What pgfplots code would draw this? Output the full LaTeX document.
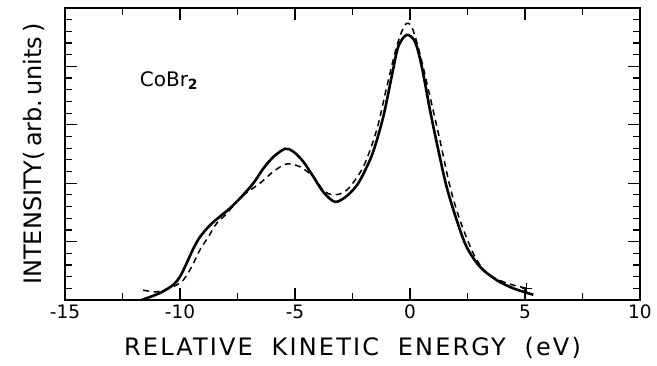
\documentclass[border=0pt]{standalone}
\usepackage{pgfplots}
\pgfplotsset{compat=1.18}
\usepackage{fontspec}
\setmainfont{DejaVu Sans}
\newfontfamily\spacedfont[LetterSpace=9]{DejaVu Sans}
\begin{document}
\begin{tikzpicture}
\useasboundingbox (-65pt,-66pt) rectangle (592pt,300pt);
\begin{axis}[
  at={(0pt,0pt)}, anchor=south west,
  scale only axis, width=575pt, height=292pt,
  xmin=-15, xmax=10, ymin=0, ymax=5,
  xtick={-15,-10,...,10}, minor x tick num=1,
  ytick={0,1,...,5}, yticklabels={}, minor y tick num=4,
  tick align=inside, tick pos=both,
  major tick length=12pt, minor tick length=7pt,
  every tick/.style={black, line width=1.2pt},
  axis line style={line width=1.6pt},
  /pgf/number format/assume math mode=true,
  xticklabel style={font=\fontsize{18.5}{20}\selectfont, yshift=-1pt},
  xlabel={RELATIVE\hspace{9pt} KINETIC\hspace{9pt} ENERGY\hspace{9pt} (eV)},
  xlabel style={font=\spacedfont\fontsize{24}{28}\selectfont, yshift=-12pt},
  ylabel={INTENSITY(\,arb.\,units\,)},
  ylabel style={font=\fontsize{24}{26}\selectfont, yshift=10pt},
  clip=true,
]
\addplot[black, line width=2.6pt, smooth, tension=0.5] coordinates {
(-11.67,0.00) (-10.87,0.12) (-10.29,0.26) (-10.0,0.40) (-9.71,0.63) (-9.42,0.88)
(-9.13,1.08) (-8.70,1.28) (-8.26,1.43) (-7.83,1.57) (-7.32,1.77) (-6.81,2.00)
(-6.38,2.25) (-5.94,2.45) (-5.43,2.59) (-5.07,2.54) (-4.64,2.37) (-4.20,2.11)
(-3.77,1.85) (-3.26,1.68) (-2.75,1.78) (-2.30,1.97) (-1.95,2.22) (-1.59,2.55)
(-1.16,3.14) (-0.80,3.82) (-0.51,4.34) (-0.14,4.54) (0.22,4.42) (0.51,4.00)
(0.87,3.25) (1.23,2.57) (1.59,1.94) (2.03,1.37) (2.46,0.91) (3.04,0.57)
(3.77,0.34) (4.49,0.20) (5.36,0.09)
};
\addplot[black, line width=1.5pt, dash pattern=on 6pt off 4.5pt, smooth, tension=0.5] coordinates {
(-11.6,0.17) (-11.0,0.14) (-10.29,0.23) (-9.86,0.34) (-9.49,0.57) (-9.13,0.86)
(-8.77,1.08) (-8.41,1.31) (-7.97,1.48) (-7.32,1.77) (-6.52,2.00) (-5.94,2.20)
(-5.36,2.33) (-4.78,2.28) (-4.20,2.11) (-3.77,1.88) (-3.33,1.80) (-2.75,1.88)
(-2.03,2.28) (-1.45,2.91) (-1.01,3.65) (-0.58,4.34) (-0.22,4.71) (0.07,4.68)
(0.43,4.22) (0.87,3.48) (1.30,2.74) (1.74,1.94) (2.17,1.37) (2.75,0.80)
(3.33,0.46) (4.20,0.29) (5.07,0.20)
};
\addplot[black, only marks, mark=+, mark size=5pt, line width=1.2pt] coordinates {(5.07,0.20)};
\node[anchor=west, font=\fontsize{20}{24}\selectfont] at (axis cs:-11.9,3.76) {CoBr$_{\mathbf 2}$};
\end{axis}
\end{tikzpicture}
\end{document}
